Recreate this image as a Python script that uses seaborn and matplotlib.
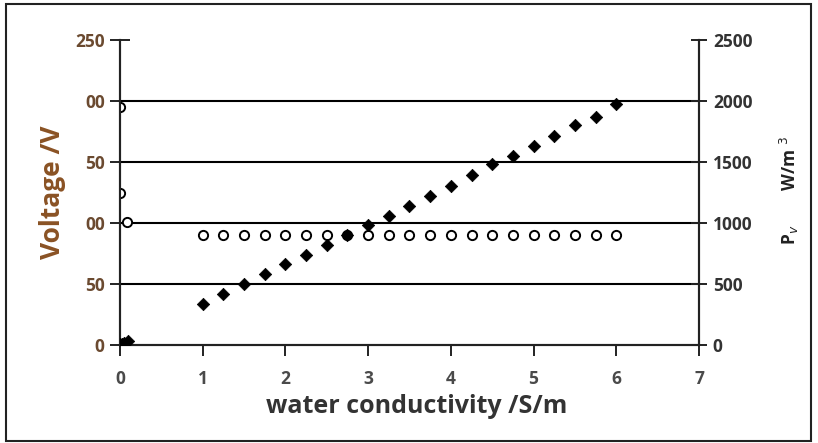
"""Voltage and power density versus water conductivity (twin y axes)."""

import matplotlib.pyplot as plt
import pandas as pd
import seaborn as sns
from matplotlib.patches import Rectangle

# Voltage (open circles, left axis)
volt_x = [0.0, 0.0, 0.08, 1.0, 1.25, 1.5, 1.75, 2.0, 2.25, 2.5, 2.75, 3.0, 3.25,
          3.5, 3.75, 4.0, 4.25, 4.5, 4.75, 5.0, 5.25, 5.5, 5.75, 6.0]
volt_y = [195, 125, 101, 90, 90, 90, 90, 90, 90, 90, 90, 90, 90,
          90, 90, 90, 90, 90, 90, 90, 90, 90, 90, 90]

# Power density (filled diamonds, right axis)
pow_x = [0.0, 0.02, 0.05, 0.1, 1.0, 1.25, 1.5, 1.75, 2.0, 2.25, 2.5, 2.75, 3.0,
         3.25, 3.5, 3.75, 4.0, 4.25, 4.5, 4.75, 5.0, 5.25, 5.5, 5.75, 6.0]
pow_y = [5, 10, 20, 35, 336, 420, 500, 580, 660, 740, 820, 900, 980,
         1060, 1140, 1220, 1300, 1390, 1480, 1550, 1630, 1710, 1800, 1870, 1975]

left_ticks = [0, 50, 100, 150, 200, 250]
left_labels = ["0", "50", "00", "50", "00", "250"]
right_ticks = [0, 500, 1000, 1500, 2000, 2500]
x_ticks = [0, 1, 2, 3, 4, 5, 6, 7]

volt = pd.DataFrame({"cond": volt_x, "voltage": volt_y})
power = pd.DataFrame({"cond": pow_x, "power": pow_y})

sns.set_style("white")
plt.rcParams["font.family"] = ["Open Sans", "DejaVu Sans"]

fig = plt.figure(figsize=(8.18, 4.43), dpi=100)
ax = fig.add_axes([0.1467, 0.2212, 0.7078, 0.6885])
ax2 = ax.twinx()

sns.scatterplot(data=volt, x="cond", y="voltage", ax=ax, marker="o",
                facecolor="white", edgecolor="black", linewidth=1.4, s=44, zorder=4)
sns.scatterplot(data=power, x="cond", y="power", ax=ax2, marker="D",
                color="black", edgecolor="black", s=40, zorder=4)

ax.set_xlim(0, 7)
ax.set_ylim(0, 250)
ax2.set_ylim(0, 2500)
ax.set_xticks(x_ticks)
ax.set_yticks(left_ticks)
ax.set_yticklabels(left_labels)
ax2.set_yticks(right_ticks)

# horizontal gridlines only (no line at the top)
for v in left_ticks[1:-1]:
    ax.axhline(v, color="black", linewidth=1.5, zorder=1)

for a in (ax, ax2):
    a.spines["top"].set_visible(False)
    for sp in a.spines.values():
        sp.set_color("#222222")
        sp.set_linewidth(1.5)

ax.tick_params(axis="x", direction="out", length=8, width=1.4, colors="#222222",
               labelcolor="#4a4a4a", labelsize=12.5, pad=10, bottom=True)
ax.tick_params(axis="y", direction="inout", length=14, width=1.4, colors="#222222",
               labelcolor="#6b4a30", labelsize=12.5, pad=4, left=True)
ax2.tick_params(axis="y", direction="inout", length=12, width=1.4, colors="#222222",
                labelcolor="#333333", labelsize=12.5, pad=4, right=True)
for lbl in ax.get_xticklabels() + ax.get_yticklabels() + ax2.get_yticklabels():
    lbl.set_fontweight("bold")

ax.set_xlabel("")
ax.set_ylabel("")
ax2.set_ylabel("")
fig.text(0.510, 0.0835, "water conductivity /S/m", ha="center", va="center",
         fontsize=18, fontweight="bold", color="#333333")
fig.text(0.0636, 0.5666, "Voltage /V", ha="center", va="center", rotation=90,
         fontsize=19, fontweight="bold", color="#8a5224")
fig.text(0.9645, 0.571, r"P$_v$        W/m $^3$", ha="center", va="center",
         rotation=90, fontsize=12.5, fontweight="bold", color="#222222")

# outer frame round the whole chart
fig.patches.append(Rectangle((0.007, 0.005), 0.985, 0.985, transform=fig.transFigure,
                             fill=False, edgecolor="#222222", linewidth=1.5))

fig.savefig("out.png", dpi=100)
